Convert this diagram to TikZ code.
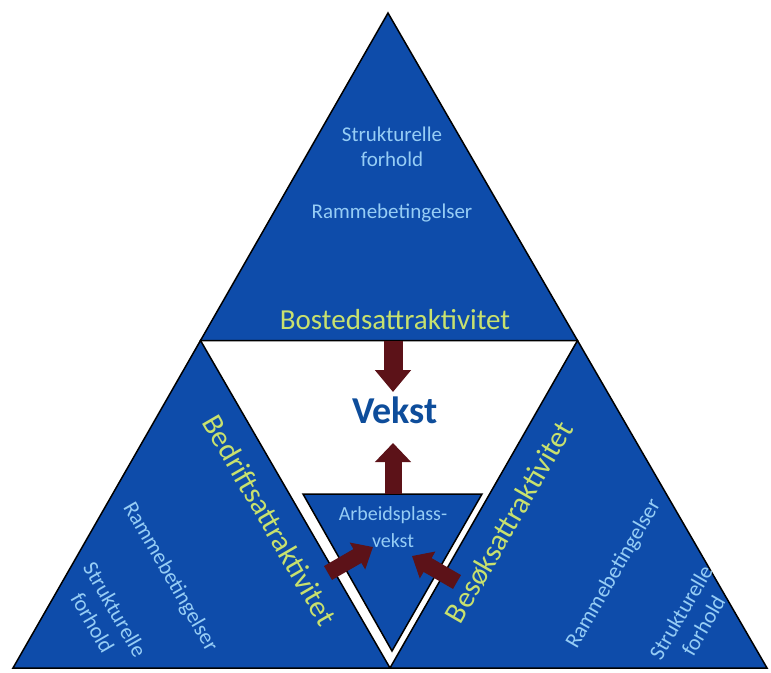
\documentclass[tikz,border=0pt]{standalone}
\usepackage{fontspec}
\setmainfont{Carlito}
\usetikzlibrary{arrows.meta,calc}
\definecolor{triblue}{RGB}{14,76,170}
\definecolor{lblue}{RGB}{150,205,245}
\definecolor{ygreen}{RGB}{200,225,110}
\definecolor{vblue}{RGB}{14,77,155}
\definecolor{arrowred}{RGB}{92,18,24}
\begin{document}
\begin{tikzpicture}[x=1pt,y=-1pt,
  tri/.style={fill=triblue,draw=black,line width=1.5pt,line join=miter},
  small/.style={text=lblue,font=\fontsize{21}{25}\selectfont,align=center,inner sep=0pt},
  sublbl/.style={text=lblue,font=\fontsize{22}{26}\selectfont,align=center,inner sep=0pt},
  bigtitle/.style={text=ygreen,font=\fontsize{29}{33}\selectfont,inner sep=0pt},
  blockarr/.style={draw=arrowred,line width=#1},
  blockarr/.default=18pt]
\useasboundingbox (0,0) rectangle (771,672);
% outer vertices
\coordinate (A) at (388,13);
\coordinate (B) at (13,668);
\coordinate (C) at (767,668);
\coordinate (mab) at ($(A)!0.5!(B)$);
\coordinate (mac) at ($(A)!0.5!(C)$);
\coordinate (mbc) at ($(B)!0.5!(C)$);
% inner small triangle
\coordinate (s1) at (303,494);
\coordinate (s2) at (482,494);
\coordinate (s3) at (392,651);
% triangles
\draw[tri] (A) -- (mab) -- (mac) -- cycle;
\draw[tri] (mab) -- (B) -- (mbc) -- cycle;
\draw[tri] (mac) -- (mbc) -- (C) -- cycle;
\draw[tri] (s1) -- (s2) -- (s3) -- cycle;
% top texts
\node[small] (ts) at (392,147) {Strukturelle\\forhold};
\node[small] (tr) at (392,213) {Rammebetingelser};
\node[bigtitle] (bo) at (395,320) {Bostedsattraktivitet};
\node[text=vblue,font=\fontsize{38}{42}\selectfont\bfseries,inner sep=0pt] (vekst) at (395,410) {Vekst};
\node[text=lblue,font=\fontsize{20}{27}\selectfont,align=center,inner sep=0pt] (ab) at (393,527) {Arbeidsplass-\\vekst};
% left triangle texts
\node[bigtitle,font=\fontsize{30}{34}\selectfont,rotate=-60] (bed) at (270,520) {Bedriftsattraktivitet};
\node[sublbl,rotate=-60] (lr) at (170,577) {Rammebetingelser};
\node[sublbl,rotate=-60] (ls) at (104,616) {Strukturelle\\forhold};
% right triangle texts
\node[bigtitle,font=\fontsize{30}{34}\selectfont,rotate=60] (bes) at (509,522) {Besøksattraktivitet};
\node[sublbl,rotate=60] (rr) at (614,574) {Rammebetingelser};
\node[sublbl,rotate=60] (rs) at (692,619) {Strukturelle\\forhold};
% arrows
\coordinate (d1) at (393,341);
\coordinate (d2) at (393,392);
\coordinate (u1) at (393,494);
\coordinate (u2) at (393,443);
\coordinate (l1) at (328,573);
\coordinate (l2) at (373,547);
\coordinate (r1) at (457,582);
\coordinate (r2) at (412,556);
\draw[blockarr=19pt,-{Triangle[width=35pt,length=22pt]}] (d1) -- (d2);
\draw[blockarr=17pt,-{Triangle[width=35pt,length=19pt]}] (u1) -- (u2);
\draw[blockarr=16pt,-{Triangle[width=30pt,length=18pt]}] (l1) -- (l2);
\draw[blockarr=16pt,-{Triangle[width=30pt,length=18pt]}] (r1) -- (r2);
\end{tikzpicture}
\end{document}
